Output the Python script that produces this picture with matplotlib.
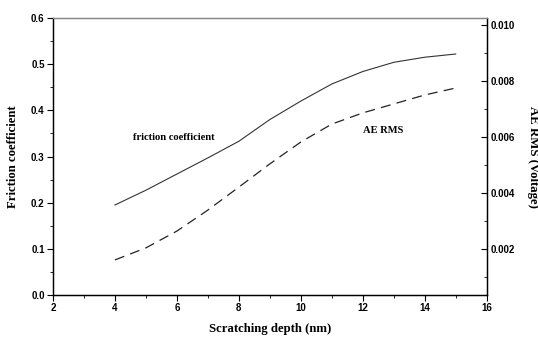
import matplotlib.pyplot as plt
import numpy as np

# scratching depth (nm)
depth = [4, 5, 6, 7, 8, 9, 10, 11, 12, 13, 14, 15]
# friction coefficient (left axis)
friction = [0.195, 0.227, 0.262, 0.297, 0.333, 0.380, 0.420, 0.457, 0.484, 0.504, 0.515, 0.522]
# AE RMS in volts (right axis)
ae_rms = [0.00161, 0.00204, 0.00264, 0.00339, 0.00421, 0.00504, 0.00582,
          0.00646, 0.00686, 0.00718, 0.00750, 0.00775]

tick_font = {'family': 'Liberation Sans', 'weight': 'bold', 'size': 7}
label_font = {'family': 'Liberation Serif', 'weight': 'bold', 'size': 9.2}
note_font = {'family': 'Liberation Serif', 'weight': 'bold', 'size': 7.6}


def main():
    fig = plt.figure(figsize=(5.38, 3.37), dpi=100)
    ax = fig.add_axes([0.0985, 0.1246, 0.806, 0.822])
    ax2 = ax.twinx()

    ax.plot(depth, friction, color='#333333', lw=0.8)
    ax2.plot(depth, ae_rms, color='#222222', lw=0.9, dashes=(8, 5))

    ax.set_xlim(2, 16)
    ax.set_ylim(0, 0.6)
    ax.set_xticks(np.arange(2, 17, 2))
    ax.set_xticks(np.arange(2, 17, 1), minor=True)
    ax.set_yticks(np.arange(0, 0.61, 0.1))
    ax.set_yticks(np.arange(0, 0.61, 0.05), minor=True)
    ax.set_yticklabels(['%.1f' % v for v in np.arange(0, 0.61, 0.1)], fontdict=tick_font)
    ax.set_xticklabels([str(v) for v in range(2, 17, 2)], fontdict=tick_font)
    ax.tick_params(which='major', direction='out', length=4, width=0.8, pad=2)
    ax.tick_params(which='minor', direction='out', length=2, width=0.6)

    ax2.set_ylim(0.000357, 0.01025)
    r_ticks = [0.002, 0.004, 0.006, 0.008, 0.010]
    ax2.set_yticks(r_ticks)
    ax2.set_yticks(np.arange(0.001, 0.0101, 0.001), minor=True)
    ax2.set_yticklabels(['%.3f' % v for v in r_ticks], fontdict=tick_font)
    ax2.tick_params(which='major', direction='in', length=4, width=0.8, pad=3)
    ax2.tick_params(which='minor', direction='in', length=2, width=0.6)

    ax.set_xlabel('Scratching depth (nm)', fontdict=label_font, labelpad=7)
    ax.set_ylabel('Friction coefficient', fontdict=label_font, labelpad=9)
    ax2.set_ylabel('AE RMS (Voltage)', fontdict=label_font, rotation=270, labelpad=17)

    ax.text(4.58, 0.342, 'friction coefficient', fontdict=note_font, va='center')
    ax.text(12.0, 0.357, 'AE RMS', fontdict=note_font, va='center')

    for a in (ax, ax2):
        for s in a.spines.values():
            s.set_linewidth(0.9)
        a.spines['top'].set_color('#888888')

    fig.savefig('out.png', dpi=100)


if __name__ == '__main__':
    main()
